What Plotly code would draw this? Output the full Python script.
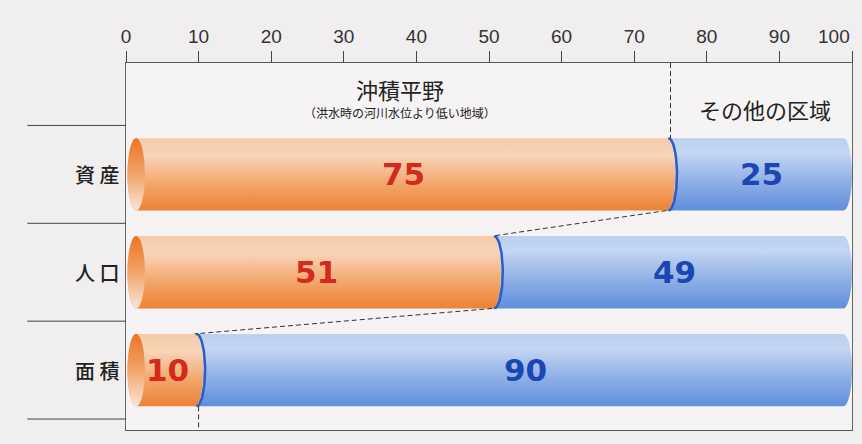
import numpy as np
import plotly.graph_objects as go

# ---- data ----
categories = ["資産", "人口", "面積"]
alluvial = [75, 51, 10]          # 沖積平野 share (%)
others = [25, 49, 90]            # その他の区域 share (%)
tick_vals = [0, 10, 20, 30, 40, 50, 60, 70, 80, 90, 100]
tick_text = [str(v) for v in tick_vals]
header_main = "沖積平野"
header_sub = "（洪水時の河川水位より低い地域）"
header_other = "その他の区域"

# ---- geometry helpers (data units) ----
R = 1.2      # half-width of the cylinder end ellipse (x units)
H = 0.37     # half-height of bars (y units)
SHIFT = 0.55 # boundary arc centre sits a little left of the value
ypos = [2, 1, 0]
YR = [-0.612, 3.138]
START = R + 0.2

orange_body = [[0, "#ee8233"], [0.35, "#f2a468"], [0.75, "#f8d3b6"], [1, "#f6ccaa"]]
orange_cap = [[0, "#f8e6d8"], [0.5, "#f2a469"], [1, "#ec7424"]]
blue_body = [[0, "#5f8edb"], [0.4, "#8fb0e6"], [0.8, "#c4d6f2"], [1, "#bccff0"]]


def half_ellipse(xc, yc, side, down=True, n=40):
    t = np.linspace(np.pi / 2, -np.pi / 2, n) if down else np.linspace(-np.pi / 2, np.pi / 2, n)
    return list(xc + side * R * np.cos(t)), list(yc + H * np.sin(t))


fig = go.Figure()

for cat, a, b, yc in zip(categories, alluvial, others, ypos):
    total = a + b
    end = total - R
    edge = a - SHIFT
    # blue segment (その他の区域)
    rx, ry = half_ellipse(end, yc, +1, down=True)
    lx, ly = half_ellipse(edge, yc, +1, down=False)
    bx = [edge] + rx + lx
    by = [yc + H] + ry + ly
    fig.add_trace(go.Scatter(x=bx, y=by, fill="toself", mode="none",
                             fillgradient=dict(type="vertical", colorscale=blue_body),
                             hoverinfo="skip", showlegend=False))
    # orange segment (沖積平野)
    rx, ry = half_ellipse(edge, yc, +1, down=True)
    lx, ly = half_ellipse(START, yc, -1, down=False)
    ox = [START] + rx + lx
    oy = [yc + H] + ry + ly
    fig.add_trace(go.Scatter(x=ox, y=oy, fill="toself", mode="none",
                             fillgradient=dict(type="vertical", colorscale=orange_body),
                             hoverinfo="skip", showlegend=False))
    # dark blue rim at the boundary
    rimx, rimy = half_ellipse(edge + 0.25, yc, +1, down=True)
    fig.add_trace(go.Scatter(x=rimx, y=rimy, mode="lines",
                             line=dict(color="#2b5fc6", width=2.5),
                             hoverinfo="skip", showlegend=False))
    # left cap ellipse
    t = np.linspace(0, 2 * np.pi, 80)
    fig.add_trace(go.Scatter(x=list(START + R * np.cos(t)), y=list(yc + H * np.sin(t)),
                             fill="toself", mode="none",
                             fillgradient=dict(type="vertical", colorscale=orange_cap),
                             hoverinfo="skip", showlegend=False))

# dashed connector lines
dx, dy = [alluvial[0], alluvial[0], None], [YR[1], ypos[0] + H, None]
for i in range(len(alluvial) - 1):
    dx += [alluvial[i] - SHIFT, alluvial[i + 1] - SHIFT, None]
    dy += [ypos[i] - H, ypos[i + 1] + H, None]
dx += [alluvial[-1], alluvial[-1]]
dy += [ypos[-1] - H, YR[0]]
fig.add_trace(go.Scatter(x=dx, y=dy, mode="lines",
                         line=dict(color="#333333", width=1, dash="5px,3px"),
                         hoverinfo="skip", showlegend=False))

annotations = []
# value labels
for a, b, yc in zip(alluvial, others, ypos):
    annotations.append(dict(x=(START + a) / 2, y=yc, text=str(a), showarrow=False,
                            font=dict(family="DejaVu Sans", size=31, color="#d42a1e", weight="bold")))
    annotations.append(dict(x=a + b / 2, y=yc, text=str(b), showarrow=False,
                            font=dict(family="DejaVu Sans", size=31, color="#1c46b4", weight="bold")))
# category labels
for cat, yc in zip(categories, ypos):
    annotations.append(dict(x=-0.073, xref="paper", y=yc, text=" ".join(cat), showarrow=False,
                            font=dict(family="Noto Sans CJK JP", size=20, color="#222222", weight=500)))
# headers
annotations.append(dict(x=37.7, y=2.87, text=header_main, showarrow=False,
                        font=dict(family="Noto Sans CJK JP", size=22, color="#222222")))
annotations.append(dict(x=37.7, y=2.635, text=header_sub, showarrow=False,
                        font=dict(family="Noto Sans CJK JP", size=12, color="#222222")))
annotations.append(dict(x=88.0, y=2.67, text=header_other, showarrow=False,
                        font=dict(family="Noto Sans CJK JP", size=22, color="#222222")))
# last tick label, right-aligned to its tick as in the original
annotations.append(dict(x=tick_vals[-1], xref="x", y=1, yref="paper", yshift=14,
                        xanchor="right", yanchor="bottom", text=tick_text[-1], showarrow=False,
                        font=dict(family="Liberation Sans", size=19, color="#333333")))
shown_ticktext = tick_text[:-1] + [""]

# row separator lines on the left
shapes = []
for yv in [2.5, 1.5, 0.5, -0.5]:
    shapes.append(dict(type="line", xref="paper", x0=-0.136, x1=0, yref="y", y0=yv, y1=yv,
                       line=dict(color="#444444", width=1)))

fig.update_layout(
    width=862, height=444,
    margin=dict(l=126, r=10, t=63, b=14),
    paper_bgcolor="#f1eeef",
    plot_bgcolor="#f5f3f4",
    annotations=annotations,
    shapes=shapes,
    showlegend=False,
    xaxis=dict(range=[0, 100], side="top", tickmode="array", tickvals=tick_vals, ticktext=shown_ticktext,
               ticks="outside", ticklen=11, tickcolor="#444444", tickwidth=1,
               showline=True, linecolor="#4d5e58", linewidth=1.2, mirror=True,
               showgrid=False, zeroline=False,
               tickfont=dict(family="Liberation Sans", size=19, color="#333333")),
    yaxis=dict(range=YR, showticklabels=False, showgrid=False, zeroline=False,
               showline=True, linecolor="#666666", linewidth=1, mirror=True, ticks=""),
)

fig.write_html("out.html")
